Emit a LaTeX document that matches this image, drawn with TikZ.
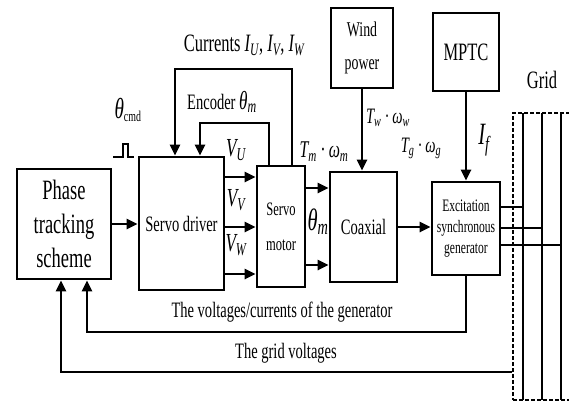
\documentclass[tikz,border=0pt]{standalone}
\usepackage{fontspec}
\setmainfont[FakeStretch=0.66]{Liberation Serif}
\usetikzlibrary{arrows.meta}
\newcommand{\fsz}[2]{\fontsize{#1}{#2}\selectfont}
\newcommand{\sbs}[1]{\textsubscript{#1}}

\begin{document}
\begin{tikzpicture}[x=1pt, y=-1pt, >={Triangle[length=11pt,width=10pt]},
  block/.style={draw, line width=2.8pt, align=center, inner sep=0pt},
  sig/.style={line width=2.8pt},
  lbl/.style={inner sep=0pt, font=\fsz{22}{26}\itshape}]

  \useasboundingbox (0,0) rectangle (569,405);

  % --- 1. blocks ---
  \node[block, minimum width=94pt, minimum height=110pt, font=\fsz{28}{34}]
    (phase) at (64,224) {Phase\\tracking\\scheme};
  \node[block, minimum width=85pt, minimum height=133pt, font=\fsz{22}{26}]
    (driver) at (181.5,223.5) {Servo driver};
  \node[block, minimum width=48pt, minimum height=121pt, font=\fsz{19}{35}]
    (motor) at (281,226.5) {Servo\\motor};
  \node[block, minimum width=67pt, minimum height=110pt, font=\fsz{22}{26}]
    (coax) at (363.5,227) {Coaxial};
  \node[block, minimum width=62pt, minimum height=80pt, font=\fsz{21}{33}]
    (wind) at (362,48) {Wind\\power};
  \node[block, minimum width=66pt, minimum height=78pt, font=\fsz{25}{28}]
    (mptc) at (466,52) {MPTC};
  \node[block, minimum width=68pt, minimum height=93pt, font=\fsz{17.5}{21}]
    (exc) at (466,228.5) {Excitation\\synchronous\\generator};

  % --- 2. grid (dashed frame + three buses) ---
  \node[draw, dashed, dash pattern=on 4pt off 2pt, line width=1.8pt,
    minimum width=68pt, minimum height=287pt, inner sep=0pt]
    (gridbox) at (547,256.5) {};
  \node[lbl, font=\fsz{25}{28}\upshape] (gridlbl) at (542,80) {Grid};
  \foreach \bx/\by in {523/207, 542/228, 561/245} {
    \draw[sig] (\bx,113) -- (\bx,400);
    \draw[sig] (exc.east |- 0,\by) -- (\bx,\by);
  }

  % --- 3. forward path ---
  \draw[sig, ->] (phase.east) -- (phase.east -| driver.west);
  \foreach \vy in {177, 227, 274}
    \draw[sig, ->] (driver.east |- 0,\vy) -- (motor.west |- 0,\vy);
  \foreach \my in {188, 265}
    \draw[sig, ->] (motor.east |- 0,\my) -- (coax.west |- 0,\my);
  \draw[sig, ->] (coax.east |- 0,227) -- (exc.west |- 0,227);
  \draw[sig, ->] (wind.south) -- (wind.south |- coax.north);
  \draw[sig, ->] (mptc.south) -- (mptc.south |- exc.north);

  % command pulse
  \draw[line width=1.8pt] (113,157) -- (123,157) -- (123,144) -- (128,144)
    -- (128,157) -- (134,157);

  % --- 4. feedback loops ---
  \draw[sig, ->] (motor.north -| 292,0) -- (292,69) -| (driver.north -| 175,0);
  \draw[sig, ->] (motor.north -| 269,0) -- (269,123) -| (driver.north -| 200,0);
  \draw[sig, ->] (exc.south) -- (466,332) -| (phase.south -| 87,0);
  \draw[sig, ->] (gridbox.west |- 0,372) -| (phase.south -| 61,0);

  % --- 5. labels ---
  \node[lbl, font=\fsz{29}{32}\itshape] (thcmd) at (128,110)
    {θ\sbs{\upshape\fsz{15}{16}cmd}};
  \node[lbl, font=\fsz{25}{28}] (curr) at (244,45)
    {Currents \textit{I\sbs{U}}, \textit{I\sbs{V}}, \textit{I\sbs{W}}};
  \node[lbl, font=\fsz{22}{26}] (enc) at (222,102)
    {Encoder \textit{\fsz{26}{28}θ\sbs{m}}};
  \node[lbl, font=\fsz{26}{28}\itshape] (vu) at (236,150) {V\sbs{U}};
  \node[lbl, font=\fsz{26}{28}\itshape] (vv) at (236,200) {V\sbs{V}};
  \node[lbl, font=\fsz{26}{28}\itshape] (vw) at (236,245) {V\sbs{W}};
  \node[lbl, font=\fsz{24}{26}\itshape] (tm) at (324,152) {T\sbs{m}\,·\,ω\sbs{m}};
  \node[lbl, font=\fsz{31}{32}\itshape] (thm) at (318,222) {θ\sbs{m}};
  \node[lbl, font=\fsz{22}{24}\itshape] (tw) at (388,118) {T\sbs{w}\,·\,ω\sbs{w}};
  \node[lbl, font=\fsz{22}{24}\itshape] (tg) at (421,148) {T\sbs{g}\,·\,ω\sbs{g}};
  \node[lbl, font=\fsz{31}{32}\itshape] (ifl) at (484,140) {I\sbs{f}};
  \node[lbl, font=\fsz{22}{26}\upshape] (vcl) at (282,312)
    {The voltages/currents of the generator};
  \node[lbl, font=\fsz{22}{26}\upshape] (gvl) at (286,353) {The grid voltages};

\end{tikzpicture}
\end{document}
